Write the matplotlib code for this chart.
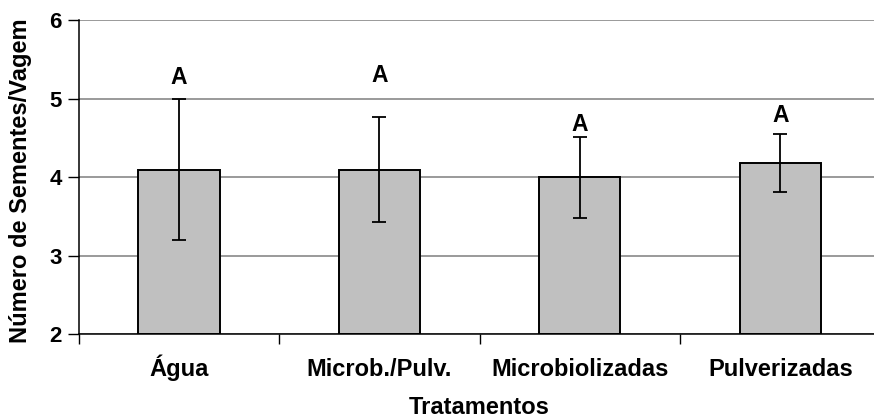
import numpy as np
import matplotlib
matplotlib.use("Agg")
import matplotlib.pyplot as plt

# seeds per pod, mean and deviation per treatment
tratamentos = ["Água", "Microb./Pulv.", "Microbiolizadas", "Pulverizadas"]
medias = [4.10, 4.10, 4.00, 4.19]
desvios = [0.90, 0.67, 0.52, 0.37]
letras = ["A", "A", "A", "A"]
letras_y = [5.28, 5.30, 4.67, 4.79]

plt.rcParams['font.family'] = ['Liberation Sans', 'DejaVu Sans']
plt.rcParams['font.weight'] = 'bold'

fig = plt.figure(figsize=(8.74, 4.2), dpi=100)
ax = fig.add_axes([0.090, 0.2036, 0.9176, 0.7476])

x = np.arange(len(tratamentos))
ax.bar(x, np.array(medias) - 2, bottom=2, width=0.405, color='#c0c0c0',
       edgecolor='black', linewidth=1.4, zorder=2)
ax.errorbar(x, medias, yerr=desvios, fmt='none', ecolor='black',
            elinewidth=1.3, capsize=5, capthick=1.3, zorder=3)

for xi, txt, yi in zip(x, letras, letras_y):
    ax.text(xi, yi, txt, ha='center', va='center', fontsize=16.5,
            fontweight='bold', zorder=4)

ax.set_xlim(-0.5, len(tratamentos) - 0.5)
ax.set_ylim(2, 6)
ax.set_yticks([2, 3, 4, 5, 6])
ax.yaxis.grid(True, color='#7f7f7f', linewidth=1.1, zorder=0)
ax.set_axisbelow(True)

# labels at category centres, tick marks on the boundaries
ax.set_xticks(x)
ax.set_xticklabels(tratamentos, fontsize=17, fontweight='bold', va='baseline')
ax.set_xticks(np.arange(-0.5, len(tratamentos)), minor=True)
ax.tick_params(axis='x', which='major', length=0, pad=30)
ax.tick_params(axis='x', which='minor', length=7, width=1, color='black')
ax.tick_params(axis='y', length=8, width=1, pad=4, labelsize=16)
for lab in ax.get_yticklabels():
    lab.set_fontweight('bold')

for side in ['top', 'right']:
    ax.spines[side].set_visible(False)
ax.spines['left'].set_linewidth(1.1)
ax.spines['bottom'].set_linewidth(1.1)

ax.set_xlabel('Tratamentos', fontsize=17, fontweight='bold', va='baseline')
ax.xaxis.set_label_coords(0.5, -0.252)
ax.set_ylabel('Número de Sementes/Vagem', fontsize=17, fontweight='bold', va='center')
ax.yaxis.set_label_coords(-0.072, 0.49)

fig.savefig('out.png', dpi=100)
